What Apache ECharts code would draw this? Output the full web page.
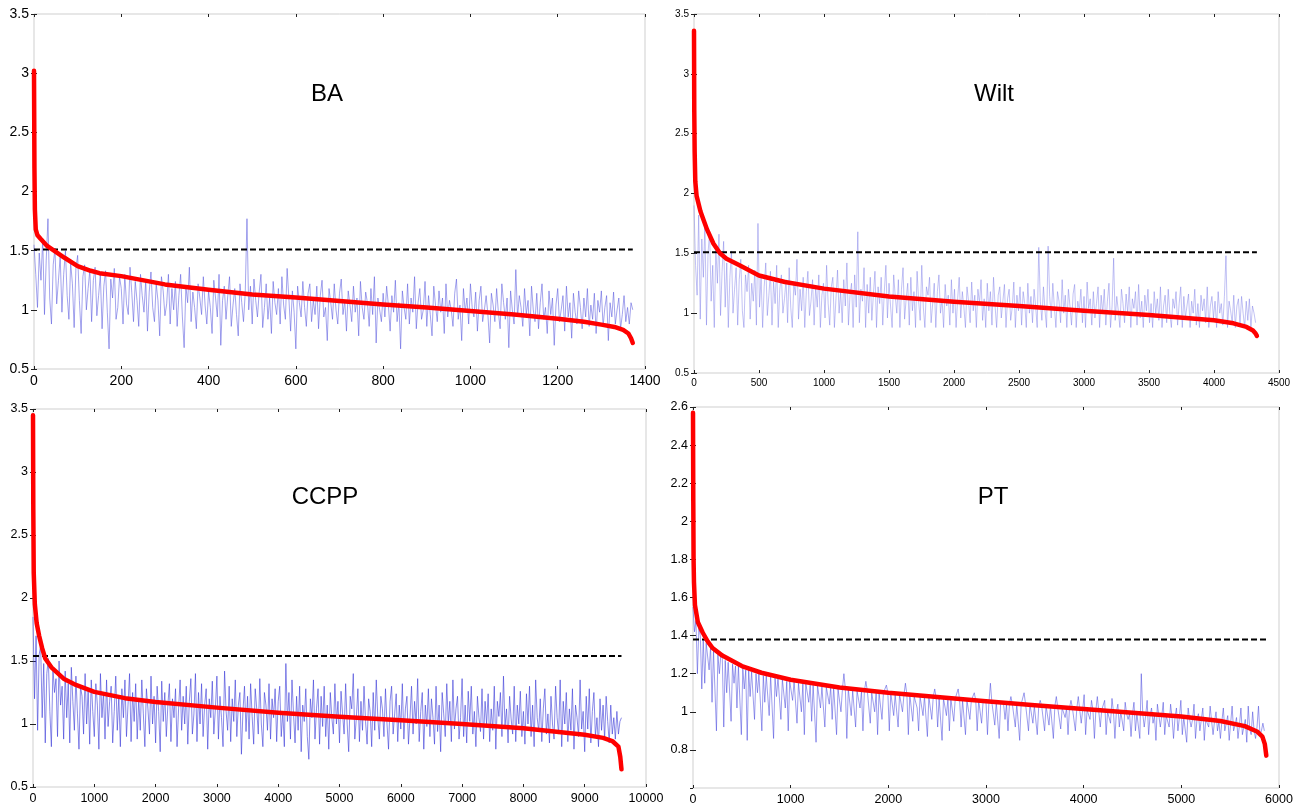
<!DOCTYPE html>
<html>
<head>
<meta charset="utf-8">
<script src="https://cdn.jsdelivr.net/npm/echarts@6/dist/echarts.min.js"></script>
<style>
html,body{margin:0;padding:0;background:#fff;}
#chart{width:1296px;height:807px;}
</style>
</head>
<body>
<div id="chart"></div>
<script>
// ---------- DATA ----------
const panelTitles = ['BA', 'Wilt', 'CCPP', 'PT'];
const thresholds = [1.51, 1.51, 1.54, 1.38];

// sorted (red) curves: [index, value]
const baSorted = [[0,3.02],[1,2.2],[2,1.85],[4,1.68],[8,1.63],[15,1.60],[30,1.54],[50,1.49],[70,1.44],[100,1.37],[130,1.33],[150,1.31],[200,1.285],[300,1.215],[400,1.17],[500,1.13],[600,1.105],[700,1.075],[800,1.045],[900,1.02],[1000,0.99],[1100,0.96],[1200,0.925],[1260,0.90],[1300,0.875],[1330,0.855],[1350,0.83],[1362,0.80],[1368,0.76],[1372,0.72]];
const wiltSorted = [[0,3.36],[2,2.7],[5,2.35],[10,2.1],[20,1.98],[50,1.85],[100,1.7],[150,1.58],[200,1.5],[250,1.455],[350,1.40],[500,1.315],[700,1.26],[1000,1.205],[1500,1.14],[2000,1.095],[2500,1.06],[3000,1.02],[3500,0.985],[4000,0.94],[4150,0.915],[4250,0.885],[4300,0.855],[4320,0.83],[4330,0.81]];
const ccppSorted = [[0,3.45],[5,2.7],[12,2.2],[30,1.95],[60,1.8],[100,1.7],[150,1.6],[200,1.52],[300,1.45],[500,1.36],[700,1.31],[1000,1.255],[1500,1.205],[2000,1.175],[3000,1.13],[4000,1.09],[5000,1.058],[6000,1.03],[7000,1.0],[8000,0.967],[9000,0.915],[9300,0.89],[9450,0.865],[9550,0.82],[9580,0.74],[9600,0.64]];
const ptSorted = [[0,2.57],[3,2.1],[6,1.8],[10,1.68],[20,1.56],[50,1.47],[100,1.415],[150,1.37],[200,1.335],[300,1.295],[500,1.24],[700,1.205],[1000,1.168],[1500,1.128],[2000,1.10],[2500,1.078],[3000,1.055],[3500,1.035],[4000,1.015],[4500,0.995],[5000,0.975],[5400,0.952],[5650,0.925],[5780,0.895],[5830,0.87],[5855,0.83],[5870,0.77]];

const baStep = 4;
const baValues = [
1.55,1.30,1.02,1.48,1.25,1.60,0.96,1.42,1.77,1.10,0.88,1.38,1.52,1.05,1.25,1.45,0.98,1.30,1.50,1.12,
0.92,1.40,1.22,0.85,1.35,1.46,1.08,0.80,1.28,1.38,1.00,1.18,1.34,0.90,1.25,1.36,0.95,1.12,1.30,0.84,
1.20,1.33,0.98,0.67,1.26,1.10,1.35,0.92,1.02,1.28,1.18,0.88,1.30,1.05,0.96,1.36,1.15,0.90,1.24,1.08,
0.86,1.30,1.12,0.98,1.25,0.82,1.15,1.32,1.02,0.90,1.22,1.08,0.78,1.28,1.16,0.95,1.05,1.30,0.88,1.18,
1.00,1.24,0.86,1.12,1.30,0.94,0.68,1.20,1.06,1.36,0.90,1.15,1.02,0.84,1.22,1.10,0.96,1.28,1.04,0.88,
1.16,1.02,0.80,1.25,1.10,0.94,1.30,0.70,1.08,1.20,0.92,1.12,1.28,0.86,1.04,1.18,0.96,0.78,1.22,1.06,
0.90,1.14,1.77,1.00,1.20,0.88,1.26,1.08,0.94,1.15,1.30,0.85,1.02,1.22,0.92,1.10,0.80,1.24,1.06,0.96,
1.18,0.88,1.28,1.04,0.92,1.35,1.10,0.82,1.16,0.98,0.67,1.20,1.06,0.94,1.24,1.02,0.86,1.14,1.22,0.90,
1.08,0.96,1.20,0.84,1.12,1.25,0.94,1.02,0.74,1.18,1.06,0.92,1.22,1.00,0.88,1.14,1.26,0.96,1.08,0.82,
1.16,1.04,0.90,1.20,0.98,1.10,0.78,1.24,1.02,0.92,1.15,1.06,0.86,1.18,0.96,1.28,0.72,1.10,1.00,0.90,
1.14,0.94,1.20,1.04,0.82,1.12,0.98,1.25,0.90,1.06,0.67,1.16,1.02,0.92,1.22,0.88,1.10,0.98,1.28,0.84,
1.06,1.18,0.92,1.00,1.24,0.86,1.12,0.96,0.78,1.20,1.04,0.90,1.16,0.98,1.10,0.80,1.22,0.94,1.08,1.00,
0.86,1.14,1.26,0.92,1.04,0.74,1.18,0.98,1.10,0.88,1.22,1.02,0.94,1.15,0.82,1.08,1.20,0.90,1.00,1.12,
0.96,0.72,1.14,1.04,0.90,1.18,0.98,0.84,1.22,1.06,0.92,1.10,0.68,1.16,1.00,0.88,1.34,0.94,1.12,1.02,
0.86,1.18,0.96,1.08,0.78,1.20,1.00,0.90,1.14,0.84,1.06,1.22,0.92,1.02,0.80,1.16,0.96,1.10,0.70,1.04,
1.18,0.90,1.00,1.12,0.82,1.20,0.94,1.06,0.76,1.14,0.98,0.88,1.16,1.02,0.84,1.10,0.94,1.18,0.86,1.04,
0.92,1.14,0.80,1.08,0.98,1.16,0.86,1.02,1.12,0.74,1.06,0.94,1.15,0.88,1.00,1.10,0.84,0.96,1.12,0.90,
1.02,0.88,1.06,1.00];

const wiltStep = 12;
const wiltValues = [
1.90,1.40,1.15,1.82,0.95,1.62,1.30,1.75,0.90,1.50,1.68,1.10,1.40,0.88,1.55,1.25,1.66,0.98,1.35,1.60,
1.05,1.42,0.88,1.30,1.52,1.00,1.20,1.38,0.90,1.28,1.45,1.02,0.88,1.32,1.18,1.40,0.95,1.25,1.10,1.36,
0.90,1.75,1.05,1.30,0.88,1.22,1.42,0.98,1.15,1.35,0.90,1.26,1.08,1.40,0.88,1.20,1.32,1.00,1.12,1.28,
0.92,1.38,1.05,0.88,1.25,1.15,1.45,0.95,1.20,1.02,1.30,0.88,1.18,1.35,0.98,1.10,1.28,0.90,1.22,1.05,
1.32,0.88,1.15,1.25,0.96,1.40,1.08,0.90,1.22,1.30,0.88,1.12,1.36,1.00,1.18,0.92,1.28,1.06,1.42,0.90,
1.15,1.25,0.88,1.32,1.05,1.68,0.92,1.20,1.10,1.38,0.88,1.24,1.00,1.30,0.94,1.16,1.35,0.88,1.22,1.08,
1.30,0.90,1.18,1.40,0.96,1.25,1.06,0.88,1.32,1.14,1.00,1.28,0.88,1.20,1.38,0.95,1.12,1.25,0.90,1.30,
1.02,1.18,0.88,1.35,1.10,0.94,1.40,1.05,0.88,1.22,1.15,1.30,0.92,1.08,1.25,0.88,1.18,1.32,1.00,1.12,
0.88,1.24,1.06,1.15,0.90,1.28,1.00,1.20,0.88,1.12,1.30,0.96,1.18,1.05,0.88,1.22,1.10,0.92,1.26,1.02,
1.15,0.88,1.20,1.08,1.28,0.94,1.12,0.88,1.25,1.02,1.18,0.90,1.30,1.06,0.88,1.15,1.22,0.96,1.10,1.24,
0.88,1.12,1.20,0.94,1.05,1.26,0.88,1.15,1.02,1.22,0.90,1.18,1.08,0.88,1.25,1.00,1.14,0.92,1.20,1.06,
0.88,1.55,1.10,0.94,1.22,1.02,0.88,1.56,1.14,0.96,1.25,1.05,0.88,1.18,1.10,0.92,1.28,1.00,1.15,0.88,
1.20,1.06,0.90,1.16,1.24,0.88,1.10,1.02,1.20,0.92,1.14,0.88,1.26,1.04,1.12,0.90,1.18,0.96,1.08,1.22,
0.88,1.15,1.00,1.20,0.90,1.10,1.25,0.88,1.06,1.46,0.94,1.14,1.02,0.88,1.20,1.08,0.92,1.16,1.00,1.22,
0.88,1.12,1.04,1.18,0.90,1.24,0.96,1.10,0.88,1.15,1.02,1.20,0.92,1.08,0.88,1.18,1.00,1.12,0.94,1.22,
0.88,1.06,1.15,0.92,1.20,1.00,0.88,1.12,1.04,1.18,0.90,1.08,1.22,0.88,1.14,0.96,1.06,1.16,0.88,1.10,
1.00,1.20,0.90,1.08,0.88,1.15,1.02,1.12,0.92,1.22,0.88,1.06,1.14,0.96,1.10,0.88,1.18,1.00,1.08,0.90,
1.14,1.48,0.88,1.10,1.02,0.92,1.15,0.88,1.06,1.12,0.90,1.14,1.00,0.88,1.10,0.94,1.12,0.88,1.06,1.00,
0.92];

const ccppStep = 25;
const ccppValues = [
1.85,1.20,1.70,0.95,1.55,1.62,1.05,1.48,0.85,1.40,1.52,1.10,0.82,1.45,1.25,1.36,0.90,1.50,1.15,1.30,
0.88,1.42,1.05,1.32,0.85,1.45,1.18,0.95,1.38,1.08,0.80,1.30,1.22,0.92,1.40,1.00,1.28,0.84,1.35,1.10,
0.90,1.32,1.15,0.80,1.40,1.05,1.25,0.88,1.35,0.98,1.18,1.30,0.85,1.10,1.38,0.95,1.22,0.82,1.28,1.05,
1.35,0.90,1.15,1.40,0.86,1.25,1.02,1.32,0.88,1.20,0.95,1.35,1.08,0.82,1.28,1.12,0.92,1.38,1.00,1.22,
0.85,1.30,1.10,0.78,1.34,1.02,1.25,0.90,1.15,1.32,0.86,1.20,1.05,1.28,0.82,1.12,1.35,0.95,1.22,1.00,
1.30,0.84,1.18,1.36,0.92,1.08,1.40,0.86,1.25,1.00,1.32,0.90,1.15,1.28,0.80,1.20,1.05,1.34,0.92,1.12,
1.38,0.88,1.22,1.05,0.82,1.42,1.10,0.95,1.30,0.86,1.20,1.02,1.35,0.90,1.15,1.25,0.76,1.10,1.30,0.94,
1.22,0.88,1.32,1.06,0.84,1.28,1.12,0.92,1.36,1.00,0.82,1.25,1.15,0.95,1.32,0.88,1.20,1.05,1.28,0.86,
1.18,1.30,0.90,1.10,0.82,1.48,1.02,1.25,0.88,1.35,1.08,0.85,1.22,0.95,1.30,0.78,1.15,1.02,1.28,0.90,
0.72,1.20,1.05,1.35,0.88,1.12,1.28,0.84,1.22,0.98,1.30,0.90,1.15,0.80,1.25,1.05,0.92,1.32,1.00,1.18,
0.85,1.26,1.08,0.92,1.32,1.00,0.78,1.22,1.12,1.40,0.88,1.05,1.28,0.86,1.18,0.95,1.30,1.02,0.84,1.20,
1.10,0.82,1.25,0.95,1.35,1.05,0.88,1.22,1.12,0.90,1.28,1.00,0.80,1.18,1.30,0.92,1.08,1.24,0.86,1.15,
0.96,1.32,0.88,1.12,1.22,0.84,1.05,1.30,0.92,1.18,1.00,1.36,0.86,1.10,1.25,0.80,1.15,0.98,1.28,0.90,
1.20,1.05,0.84,1.30,0.94,1.15,0.78,1.25,1.08,0.90,1.32,1.00,1.18,0.86,1.35,0.96,1.12,1.22,0.88,1.05,
1.36,0.90,1.15,0.85,1.26,1.02,1.30,0.92,1.10,0.82,1.22,1.05,0.94,1.28,0.88,1.18,1.00,1.24,0.86,1.12,
0.95,1.30,0.80,1.18,1.06,1.25,0.90,1.38,0.98,1.12,0.85,1.22,1.04,0.92,1.30,0.86,1.15,1.00,1.26,0.90,
1.10,0.84,1.24,1.00,1.30,0.90,1.15,0.82,1.35,1.05,0.94,1.20,0.86,1.12,1.28,0.92,1.08,0.85,1.22,1.00,
0.88,1.30,1.05,0.92,1.35,0.82,1.18,1.00,1.25,0.86,1.12,0.95,1.28,0.80,1.15,1.05,0.90,1.35,0.96,1.10,
0.78,1.22,0.96,1.28,0.85,1.10,1.25,0.90,1.05,0.82,1.20,0.95,1.15,0.88,1.22,1.02,0.85,1.15,0.92,1.05,
0.88,1.10,0.92,1.02,1.05];

const ptStep = 15;
const ptValues = [
1.55,1.42,1.48,1.20,1.44,1.40,1.12,1.38,1.15,1.36,1.35,1.22,1.34,1.05,1.32,1.31,0.90,1.30,1.20,1.30,
1.28,0.92,1.27,1.10,1.26,1.26,0.95,1.25,1.15,1.24,1.02,1.24,1.23,0.88,1.23,1.12,1.22,0.85,1.22,1.08,
1.21,1.21,0.96,1.20,1.10,1.20,1.20,0.90,1.19,1.05,1.19,1.19,0.98,1.19,1.18,0.86,1.18,1.08,1.18,1.18,
0.96,1.17,1.17,1.02,1.16,0.90,1.16,1.16,1.06,1.16,1.15,0.94,1.15,1.15,1.00,1.15,0.88,1.15,1.14,1.05,
1.14,0.95,1.14,1.14,0.84,1.14,1.13,1.02,1.13,1.13,0.92,1.13,1.13,1.04,1.13,0.96,1.13,1.12,0.88,1.12,
1.12,1.00,1.12,1.20,1.12,0.86,1.12,1.11,0.98,1.11,1.11,0.92,1.11,1.11,1.02,1.11,0.90,1.11,1.16,1.11,
1.10,0.94,1.10,1.10,1.00,1.10,0.88,1.10,1.10,0.96,1.10,1.10,1.14,1.10,0.90,1.10,1.09,0.98,1.09,1.09,
0.92,1.09,1.09,1.00,1.09,1.15,1.09,0.88,1.09,1.08,0.95,1.08,1.08,1.02,0.90,1.08,1.08,0.98,1.08,1.08,
0.87,1.08,1.08,0.96,1.08,1.12,1.07,0.92,1.07,1.07,0.85,1.07,1.07,0.98,1.07,0.90,1.07,1.07,0.95,1.07,
1.06,1.12,1.06,0.92,1.06,1.06,0.88,1.06,1.06,0.96,1.06,1.06,1.10,1.06,0.90,1.06,1.05,0.94,1.05,1.05,
1.05,0.88,1.05,1.15,1.05,1.05,0.93,1.05,1.05,0.86,1.05,1.05,1.04,0.96,1.04,0.90,1.04,1.08,1.04,1.04,
0.92,1.04,1.04,0.85,1.04,1.04,1.10,1.04,1.04,0.90,1.04,1.03,0.94,1.03,1.03,0.88,1.03,1.06,1.03,1.03,
0.90,1.03,1.03,0.93,1.03,1.03,0.86,1.03,1.08,1.02,1.02,0.91,1.02,1.02,0.97,1.02,0.88,1.02,1.06,1.02,
1.02,0.90,1.02,1.08,1.01,0.94,1.01,1.09,0.88,1.01,1.01,0.96,1.06,1.01,0.86,1.01,1.08,1.00,0.92,1.01,
1.00,1.06,0.88,1.00,1.00,0.94,1.07,1.00,0.86,1.00,1.04,0.92,1.00,0.99,0.90,1.05,0.99,0.96,0.99,0.87,
0.99,1.05,0.90,0.99,1.00,0.86,1.20,0.99,0.92,0.98,1.06,0.88,0.98,1.02,0.94,0.98,0.85,1.04,0.98,0.92,
0.98,1.05,0.88,0.98,0.97,0.92,1.04,0.97,0.86,0.97,1.02,0.90,0.97,1.06,0.88,0.97,0.96,0.84,1.02,0.96,
0.92,0.96,1.04,0.86,0.96,0.99,0.90,0.96,1.02,0.85,0.96,0.95,0.92,1.03,0.95,0.88,0.95,1.00,0.90,0.95,
0.86,0.95,1.02,0.90,0.94,0.98,0.85,0.94,1.03,0.90,0.93,0.97,0.86,0.93,1.02,0.88,0.92,0.96,0.84,1.03,
0.91,0.88,1.00,0.90,0.86,0.92,1.03,0.88,0.90,0.94,0.90];

// axis ranges / ticks
const xMaxes = [1400, 4500, 10000, 6000];
const xIntervals = [200, 500, 1000, 1000];
const yMins = [0.5, 0.5, 0.5, 0.6];
const yMaxes = [3.5, 3.5, 3.5, 2.6];
const yIntervals = [0.5, 0.5, 0.5, 0.2];

// ---------- LAYOUT / STYLE ----------
const layout = [
  {left:34, top:14, width:611, height:355, font:14, titleX:327, titleY:94, blue:'rgba(85,85,222,0.6)'},
  {left:694, top:14, width:585, height:359, font:10, titleX:994, titleY:94, blue:'rgba(120,120,230,0.5)'},
  {left:33, top:409, width:613, height:378, font:12.5, titleX:325, titleY:497, blue:'rgba(55,55,215,0.65)'},
  {left:693, top:407, width:586, height:381, font:12.5, titleX:993, titleY:497, blue:'rgba(75,75,222,0.6)'}
];

const sortedAll = [baSorted, wiltSorted, ccppSorted, ptSorted];
const stepsAll = [baStep, wiltStep, ccppStep, ptStep];
const valuesAll = [baValues, wiltValues, ccppValues, ptValues];

const FONT = '"Liberation Sans", Arial, sans-serif';

const grids = [], xAxes = [], yAxes = [], series = [], graphics = [];

layout.forEach((L, i) => {
  grids.push({left:L.left, top:L.top, width:L.width, height:L.height, show:true,
    borderColor:'#cfcfcf', borderWidth:1, backgroundColor:'transparent'});
  const tick = {show:true, inside:true, length:3, lineStyle:{color:'#222', width:1}};
  const baseX = {type:'value', gridIndex:i, min:0, max:xMaxes[i], interval:xIntervals[i],
    axisLine:{show:false}, splitLine:{show:false}, axisTick:tick};
  xAxes.push(Object.assign({}, baseX, {position:'bottom',
    axisLabel:{show:true, color:'#000', fontSize:L.font, fontFamily:FONT, margin:5,
      formatter:(v) => String(v)}}));
  xAxes.push(Object.assign({}, baseX, {position:'top', axisLabel:{show:false}}));
  const baseY = {type:'value', gridIndex:i, min:yMins[i], max:yMaxes[i], interval:yIntervals[i],
    axisLine:{show:false}, splitLine:{show:false}, axisTick:tick};
  yAxes.push(Object.assign({}, baseY, {position:'left',
    axisLabel:{show:true, color:'#000', fontSize:L.font, fontFamily:FONT, margin:5,
      showMinLabel: i !== 3, formatter:(v) => String(+v.toFixed(2))}}));
  yAxes.push(Object.assign({}, baseY, {position:'right', axisLabel:{show:false}}));

  const noise = valuesAll[i].map((v, k) => [k * stepsAll[i], v]);
  const sorted = sortedAll[i];
  const endX = sorted[sorted.length - 1][0];

  series.push({type:'line', xAxisIndex:2*i, yAxisIndex:2*i, data:noise, symbol:'none',
    silent:true, animation:false, z:1,
    lineStyle:{color:L.blue, width:0.9}});
  series.push({type:'line', xAxisIndex:2*i, yAxisIndex:2*i,
    data:[[0, thresholds[i]], [endX, thresholds[i]]], symbol:'none', silent:true, animation:false, z:2,
    lineStyle:{color:'#000', width:2, type:[6,3]}});
  series.push({type:'line', xAxisIndex:2*i, yAxisIndex:2*i, data:sorted, symbol:'none',
    silent:true, animation:false, z:3,
    lineStyle:{color:'#ff0000', width:4.5, cap:'round', join:'round'}});

  graphics.push({type:'text', x:L.titleX, y:L.titleY, z:10,
    style:{text:panelTitles[i], font:'24px ' + FONT, fill:'#000', textAlign:'center', textVerticalAlign:'middle'}});
});

const chart = echarts.init(document.getElementById('chart'), null, {renderer:'canvas'});
chart.setOption({
  animation:false,
  backgroundColor:'#fff',
  grid:grids, xAxis:xAxes, yAxis:yAxes, series:series, graphic:graphics
});
</script>
</body>
</html>
